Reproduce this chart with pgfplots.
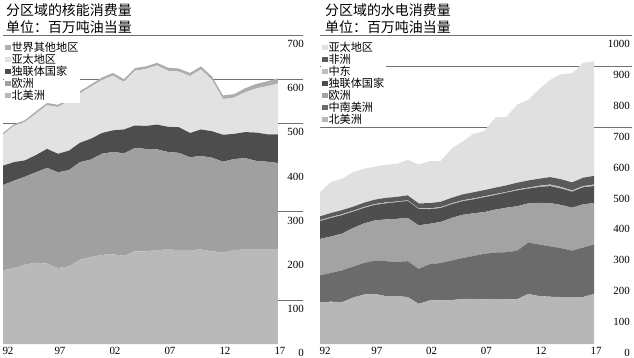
\documentclass[border=0pt]{standalone}
\usepackage{pgfplots}
\pgfplotsset{compat=1.18}
\usepackage{pgfplotstable}
\usepackage{fontspec}
\setmainfont{Liberation Serif}
\newfontfamily\cjk{Noto Sans CJK SC}

\definecolor{nNA}{HTML}{B9B9B9}
\definecolor{nEU}{HTML}{A0A0A0}
\definecolor{nCIS}{HTML}{4D4D4D}
\definecolor{nAP}{HTML}{E2E2E2}
\definecolor{nRW}{HTML}{ADADAD}
\definecolor{hNA}{HTML}{B7B7B7}
\definecolor{hCSA}{HTML}{6B6B6B}
\definecolor{hEU}{HTML}{A3A3A3}
\definecolor{hCIS}{HTML}{4E4E4E}
\definecolor{hME}{HTML}{BDBDBD}
\definecolor{hAF}{HTML}{5A5A5A}
\definecolor{hAP}{HTML}{E0E0E0}
\definecolor{gridc}{HTML}{707070}

\pgfplotstableread{
year na eu cis ap row
1992 167 193 44 70 4
1993 172 198 42 82 4
1994 180 199 37 87 4
1995 184 205 39 94 5
1996 182 217 43 99 5
1997 172 217 42 106 5
1998 176 218 44 112 5
1999 191 221 44 112 5
2000 197 221 47 118 5
2001 202 229 47 120 6
2002 203 232 49 124 6
2003 200 232 54 108 6
2004 210 234 51 124 6
2005 210 232 52 129 6
2006 213 228 56 134 6
2007 214 221 57 127 7
2008 213 220 58 126 7
2009 213 210 55 129 7
2010 214 212 60 136 7
2011 210 212 60 116 8
2012 207 206 61 81 8
2013 213 206 57 82 8
2014 214 207 59 90 9
2015 214 201 64 100 10
2016 214 199 62 109 11
2017 214 196 65 115 12
}\nuc

\pgfplotstableread{
year na csa eu cis me af ap
1992 135 87 118 58 3 12 78
1993 137 93 118 60 3 13 100
1994 135 103 119 60 3 13 102
1995 150 100 125 53 3 13 112
1996 160 102 128 50 3 14 110
1997 162 108 130 50 3 14 107
1998 155 113 135 52 3 15 107
1999 155 111 139 54 2 15 107
2000 152 116 140 55 2 16 115
2001 130 113 141 53 2 16 126
2002 141 117 131 47 3 17 136
2003 141 121 133 45 3 17 132
2004 142 128 138 44 3 18 159
2005 146 132 140 44 3 19 171
2006 146 139 138 45 3 20 189
2007 144 148 135 48 3 20 192
2008 146 150 139 47 3 21 227
2009 144 153 144 49 2 21 222
2010 145 157 144 51 3 22 253
2011 162 166 127 48 3 23 261
2012 155 167 135 51 4 23 290
2013 153 163 140 55 5 24 315
2014 152 158 140 53 5 25 340
2015 152 150 139 52 4 26 353
2016 152 160 140 55 4 27 372
2017 162 160 134 55 5 28 371
}\hyd

\pgfplotsset{
  myaxis/.style={
    scale only axis, height=309bp,
    xmin=1992, xmax=2017, ymin=0,
    stack plots=y, clip=false,
    axis line style={draw=none},
    xtick={1992,1997,2002,2007,2012,2017},
    xticklabels={\hspace*{6bp}92,97,02,07,12,17},
    xticklabel style={xshift=2bp},
    xtick pos=bottom, ytick pos=right, yticklabel pos=right,
    major tick length=0pt,
    tick label style={font=\fontsize{11}{12}\selectfont},
    /pgf/number format/assume math mode=true,
    /pgf/number format/1000 sep={},
    yticklabel style={anchor=east, inner sep=0pt, yshift=-9bp},
    grid style={gridc, line width=0.6bp},
    extra y tick labels={},
    legend style={draw=none, fill=white, at={(rel axis cs:0,1)}, anchor=north west,
      xshift=1bp, yshift=-5bp, inner sep=1bp, outer sep=0pt,
      font=\cjk\fontsize{11.2}{12}\selectfont,
      cells={anchor=west}, row sep=-0.9bp,
      nodes={inner sep=1bp}},
    legend image code/.code={\fill[##1] (0bp,-2.8bp) rectangle (5.5bp,2.8bp);},
    reverse legend,
  },
}

\begin{document}
\begin{tikzpicture}
\useasboundingbox (0,-14bp) rectangle (634bp,344bp);

\begin{axis}[myaxis, at={(3bp,0bp)}, anchor=south west, width=275bp,
  ymax=700, ytick={0,100,...,700},
  yticklabel style={xshift=26bp},
  extra y ticks={100,300,500,600,700},
  extra y tick style={grid=major, tick style={gridc, line width=0.6bp}, major tick length=25bp, tick align=outside},
]
\addplot[fill=nNA, draw=none] table[x=year, y=na] {\nuc} \closedcycle;
\addlegendentry{北美洲}
\addplot[fill=nEU, draw=none] table[x=year, y=eu] {\nuc} \closedcycle;
\addlegendentry{欧洲}
\addplot[fill=nCIS, draw=none] table[x=year, y=cis] {\nuc} \closedcycle;
\addlegendentry{独联体国家}
\addplot[fill=nAP, draw=none] table[x=year, y=ap] {\nuc} \closedcycle;
\addlegendentry{亚太地区}
\addplot[fill=nRW, draw=none] table[x=year, y=row] {\nuc} \closedcycle;
\addlegendentry{世界其他地区}
\node[anchor=west, inner sep=0pt, font=\cjk\fontsize{14}{14}\selectfont] at (rel axis cs:0,1) [xshift=3bp, yshift=25bp] {分区域的核能消费量};
\node[anchor=west, inner sep=0pt, font=\cjk\fontsize{14}{14}\selectfont] at (rel axis cs:0,1) [xshift=3bp, yshift=8bp] {单位：百万吨油当量};
\end{axis}

\begin{axis}[myaxis, at={(320bp,0bp)}, anchor=south west, width=274bp,
  ymax=1000, ytick={0,100,...,1000},
  yticklabel style={xshift=36bp},
  extra y ticks={700,900,1000},
  extra y tick style={grid=major, tick style={gridc, line width=0.6bp}, major tick length=38bp, tick align=outside},
]
\addplot[fill=hNA, draw=none] table[x=year, y=na] {\hyd} \closedcycle;
\addlegendentry{北美洲}
\addplot[fill=hCSA, draw=none] table[x=year, y=csa] {\hyd} \closedcycle;
\addlegendentry{中南美洲}
\addplot[fill=hEU, draw=none] table[x=year, y=eu] {\hyd} \closedcycle;
\addlegendentry{欧洲}
\addplot[fill=hCIS, draw=none] table[x=year, y=cis] {\hyd} \closedcycle;
\addlegendentry{独联体国家}
\addplot[fill=hME, draw=none] table[x=year, y=me] {\hyd} \closedcycle;
\addlegendentry{中东}
\addplot[fill=hAF, draw=none] table[x=year, y=af] {\hyd} \closedcycle;
\addlegendentry{非洲}
\addplot[fill=hAP, draw=none] table[x=year, y=ap] {\hyd} \closedcycle;
\addlegendentry{亚太地区}
\node[anchor=west, inner sep=0pt, font=\cjk\fontsize{14}{14}\selectfont] at (rel axis cs:0,1) [xshift=5bp, yshift=25bp] {分区域的水电消费量};
\node[anchor=west, inner sep=0pt, font=\cjk\fontsize{14}{14}\selectfont] at (rel axis cs:0,1) [xshift=5bp, yshift=8bp] {单位：百万吨油当量};
\end{axis}
\end{tikzpicture}
\end{document}
